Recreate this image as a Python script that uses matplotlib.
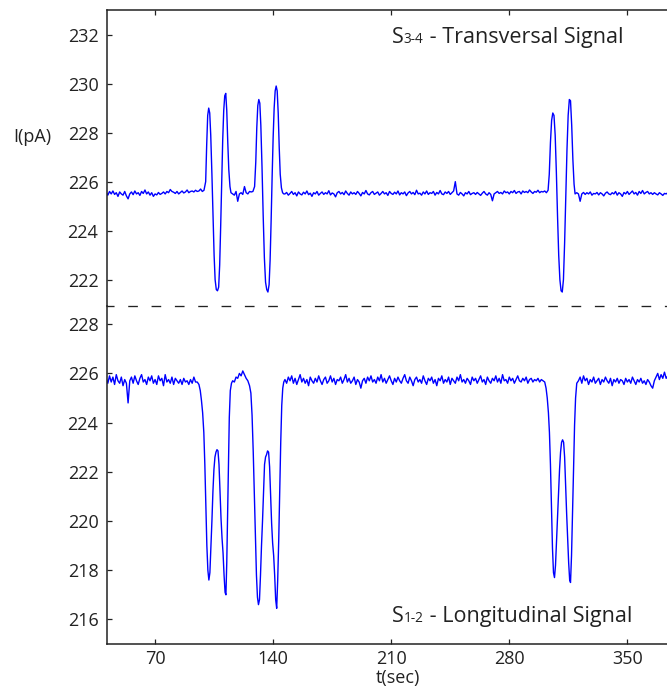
import matplotlib
matplotlib.use("Agg")
import matplotlib.pyplot as plt

plt.rcParams['font.family'] = ['Open Sans', 'DejaVu Sans']
plt.rcParams['lines.scale_dashes'] = False

# ---------------- data ----------------
# S3-4 transversal signal: time (s) and current (pA)
top_time = [
    41, 42, 43, 44, 45, 46, 47, 48, 49, 50,
    51, 52, 53, 54, 55, 56, 57, 58, 59, 60,
    61, 62, 63, 64, 65, 66, 67, 68, 69, 70,
    71, 72, 73, 74, 75, 76, 77, 78, 79, 80,
    81, 82, 83, 84, 85, 86, 87, 88, 89, 90,
    91, 92, 93, 94, 95, 96, 97,
    98, 99, 100, 100.6, 101.2, 101.8, 102.4, 103, 103.7, 104.4,
    105, 105.6, 106.3, 107, 107.7, 108.3, 108.9, 109.5, 110.1, 110.7,
    111.3, 111.9, 112.5, 113.1, 113.7, 114.4, 115,
    116, 117, 118, 119, 120, 121, 122, 123, 124, 125, 126, 127,
    128, 129, 129.7, 130.3, 130.9, 131.5, 132.1, 132.7, 133.4, 134.1,
    134.8, 135.5, 136.2, 136.9, 137.6, 138.2, 138.8, 139.4, 140, 140.6,
    141.2, 141.8, 142.4, 143, 143.6, 144.2, 144.9, 145.6, 146.3,
    147, 148, 149, 150, 151, 152, 153, 154, 155, 156,
    157, 158, 159, 160, 161, 162, 163, 164, 165, 166,
    167, 168, 169, 170, 171, 172, 173, 174, 175, 176,
    177, 178, 179, 180, 181, 182, 183, 184, 185, 186,
    187, 188, 189, 190, 191, 192, 193, 194, 195, 196,
    197, 198, 199, 200, 201, 202, 203, 204, 205, 206,
    207, 208, 209, 210, 211, 212, 213, 214, 215, 216,
    217, 218, 219, 220, 221, 222, 223, 224, 225, 226,
    227, 228, 229, 230, 231, 232, 233, 234, 235, 236,
    237, 238, 239, 240, 241, 242, 243, 244, 245, 246,
    247, 248, 249, 250, 251, 252, 253, 254, 255, 256,
    257, 258, 259, 260, 261, 262, 263, 264, 265, 266,
    267, 268, 269, 270, 271, 272, 273, 274, 275, 276,
    277, 278, 279, 280, 281, 282, 283, 284, 285, 286,
    287, 288, 289, 290, 291, 292, 293, 294, 295, 296,
    297, 298, 299, 300, 301,
    302, 303, 303.7, 304.4, 305.1, 305.8, 306.5, 307.2, 307.9, 308.6,
    309.3, 310, 310.7, 311.4, 312.1, 312.8, 313.5, 314.2, 314.9, 315.6,
    316.3, 317, 317.7, 318.4, 319,
    320, 321, 322, 323, 324, 325, 326, 327, 328, 329,
    330, 331, 332, 333, 334, 335, 336, 337, 338, 339,
    340, 341, 342, 343, 344, 345, 346, 347, 348, 349,
    350, 351, 352, 353, 354, 355, 356, 357, 358, 359,
    360, 361, 362, 363, 364, 365, 366, 367, 368, 369,
    370, 371, 372, 373, 374,
]
top_current = [
    225.55, 225.45, 225.60, 225.50, 225.62, 225.48, 225.55, 225.40, 225.58, 225.50,
    225.45, 225.60, 225.42, 225.30, 225.50, 225.58, 225.47, 225.62, 225.50, 225.55,
    225.44, 225.60, 225.52, 225.66, 225.50, 225.58, 225.45, 225.55, 225.40, 225.50,
    225.46, 225.56, 225.48, 225.52, 225.58, 225.50, 225.60, 225.55, 225.68, 225.60,
    225.57, 225.52, 225.60, 225.50, 225.56, 225.62, 225.54, 225.58, 225.66, 225.55,
    225.60, 225.62, 225.58, 225.65, 225.60, 225.62, 225.70,
    225.6, 225.65, 226.0, 227.5, 228.7, 229.0, 228.8, 227.9, 226.3, 224.5,
    223.0, 222.0, 221.6, 221.55, 221.7, 222.6, 224.2, 226.0, 227.7, 228.9,
    229.5, 229.6, 228.9, 227.6, 226.5, 225.8, 225.55,
    225.5, 225.45, 225.6, 225.2, 225.5, 225.55, 225.48, 225.8, 225.55, 225.5, 225.6, 225.58,
    225.6, 225.8, 226.8, 228.2, 229.1, 229.35, 229.2, 228.3, 226.6, 224.6,
    222.9, 221.9, 221.6, 221.5, 221.8, 222.8, 224.4, 226.2, 227.8, 229.0,
    229.7, 229.9, 229.7, 228.8, 227.4, 226.3, 225.75, 225.55, 225.5,
    225.50, 225.56, 225.45, 225.52, 225.60, 225.48, 225.55, 225.42, 225.58, 225.50,
    225.46, 225.57, 225.50, 225.62, 225.47, 225.53, 225.40, 225.55, 225.50, 225.60,
    225.45, 225.52, 225.58, 225.48, 225.55, 225.50, 225.63, 225.46, 225.54, 225.50,
    225.38, 225.55, 225.60, 225.50, 225.56, 225.47, 225.62, 225.52, 225.45, 225.58,
    225.50, 225.55, 225.48, 225.60, 225.52, 225.42, 225.56, 225.50, 225.64, 225.50,
    225.46, 225.55, 225.60, 225.48, 225.53, 225.58, 225.45, 225.52, 225.60, 225.50,
    225.55, 225.44, 225.60, 225.52, 225.48, 225.57, 225.50, 225.62, 225.46, 225.55,
    225.50, 225.58, 225.43, 225.54, 225.60, 225.50, 225.56, 225.47, 225.65, 225.50,
    225.53, 225.45, 225.58, 225.50, 225.62, 225.48, 225.55, 225.52, 225.60, 225.45,
    225.56, 225.50, 225.64, 225.50, 225.47, 225.58, 225.52, 225.60, 225.48, 225.55,
    225.62, 226.00, 225.50, 225.45, 225.56, 225.50, 225.42, 225.55, 225.50, 225.60,
    225.47, 225.52, 225.55, 225.48, 225.56, 225.50, 225.44, 225.53, 225.60, 225.50,
    225.45, 225.55, 225.48, 225.22, 225.50, 225.55, 225.60, 225.52, 225.56, 225.50,
    225.62, 225.55, 225.58, 225.50, 225.60, 225.55, 225.64, 225.52, 225.58, 225.60,
    225.50, 225.62, 225.56, 225.60, 225.55, 225.66, 225.58, 225.52, 225.60, 225.57,
    225.65, 225.55, 225.60, 225.58, 225.62,
    225.55, 225.65, 226.3, 227.6, 228.5, 228.8, 228.7, 227.9, 226.4, 224.6,
    223.0, 222.0, 221.55, 221.5, 222.0, 223.5, 225.4, 227.3, 228.7, 229.35,
    229.3, 228.3, 226.9, 225.9, 225.5,
    225.55, 225.50, 225.20, 225.50, 225.56, 225.48, 225.55, 225.50, 225.58, 225.45,
    225.52, 225.50, 225.56, 225.46, 225.55, 225.50, 225.42, 225.53, 225.58, 225.50,
    225.47, 225.55, 225.50, 225.60, 225.45, 225.55, 225.50, 225.40, 225.56, 225.50,
    225.60, 225.48, 225.55, 225.62, 225.50, 225.56, 225.45, 225.60, 225.52, 225.64,
    225.50, 225.56, 225.60, 225.50, 225.55, 225.48, 225.55, 225.50, 225.46, 225.55,
    225.50, 225.44, 225.52, 225.50, 225.55,
]

# S1-2 longitudinal signal: time (s) and current (pA)
bot_time = [
    41, 42, 43, 44, 45, 46, 47, 48, 49, 50,
    51, 52, 53, 54, 55, 56, 57, 58, 59, 60,
    61, 62, 63, 64, 65, 66, 67, 68, 69, 70,
    71, 72, 73, 74, 75, 76, 77, 78, 79, 80,
    81, 82, 83, 84, 85, 86, 87, 88, 89, 90,
    91, 92, 93, 94,
    95, 96, 96.8, 97.5, 98.2, 98.9, 99.5, 100.1, 100.7, 101.3,
    101.9, 102.5, 103.1, 103.7, 104.3, 104.9, 105.5, 106.1, 106.7, 107.3,
    107.9, 108.5, 109.1, 109.7, 110.3, 110.9, 111.5, 112, 112.5, 113,
    113.5, 114, 114.6, 115.3, 116, 117, 118, 119, 120, 121,
    122, 123, 124, 125, 126, 126.8, 127.5, 128.2, 128.9, 129.5,
    130.1, 130.7, 131.3, 131.9, 132.5, 133.1, 133.7, 134.3, 134.9, 135.5,
    136.1, 136.7, 137.3, 137.9, 138.5, 139.1, 139.7, 140.3, 140.9, 141.5,
    142.1, 142.7, 143.3, 143.9, 144.5, 145.1, 145.7, 146.3,
    147, 148, 149, 150, 151, 152, 153, 154, 155, 156,
    157, 158, 159, 160, 161, 162, 163, 164, 165, 166,
    167, 168, 169, 170, 171, 172, 173, 174, 175, 176,
    177, 178, 179, 180, 181, 182, 183, 184, 185, 186,
    187, 188, 189, 190, 191, 192, 193, 194, 195, 196,
    197, 198, 199, 200, 201, 202, 203, 204, 205, 206,
    207, 208, 209, 210, 211, 212, 213, 214, 215, 216,
    217, 218, 219, 220, 221, 222, 223, 224, 225, 226,
    227, 228, 229, 230, 231, 232, 233, 234, 235, 236,
    237, 238, 239, 240, 241, 242, 243, 244, 245, 246,
    247, 248, 249, 250, 251, 252, 253, 254, 255, 256,
    257, 258, 259, 260, 261, 262, 263, 264, 265, 266,
    267, 268, 269, 270, 271, 272, 273, 274, 275, 276,
    277, 278, 279, 280, 281, 282, 283, 284, 285, 286,
    287, 288, 289, 290, 291, 292, 293, 294, 295, 296,
    297, 298, 299, 300,
    301, 301.8, 302.5, 303.2, 303.8, 304.4, 305, 305.6, 306.2, 306.8,
    307.4, 308, 308.6, 309.2, 309.8, 310.4, 311, 311.6, 312.2, 312.8,
    313.4, 314, 314.6, 315.2, 315.8, 316.3, 316.9, 317.5, 318.1, 318.7,
    319.3, 320,
    321, 322, 323, 324, 325, 326, 327, 328, 329, 330,
    331, 332, 333, 334, 335, 336, 337, 338, 339, 340,
    341, 342, 343, 344, 345, 346, 347, 348, 349, 350,
    351, 352, 353, 354, 355, 356, 357, 358, 359, 360,
    361, 362, 363, 364, 365, 366, 367, 368, 369, 370,
    371, 372, 373, 374,
]
bot_current = [
    225.80, 225.60, 225.90, 225.65, 225.85, 225.55, 225.95, 225.70, 225.60, 225.85,
    225.50, 225.75, 225.60, 224.80, 225.70, 225.85, 225.60, 225.90, 225.70, 225.55,
    225.80, 225.95, 225.65, 225.75, 225.55, 225.85, 225.70, 225.90, 225.60, 225.75,
    225.55, 225.90, 225.70, 225.80, 225.50, 225.95, 225.65, 225.75, 225.60, 225.85,
    225.55, 225.80, 225.70, 225.60, 225.75, 225.55, 225.80, 225.65, 225.70, 225.55,
    225.75, 225.60, 225.85, 225.65,
    225.65, 225.55, 225.3, 224.9, 224.4, 223.6, 222.3, 220.6, 219.0, 218.0,
    217.6, 217.9, 218.9, 220.0, 221.2, 222.1, 222.6, 222.8, 222.9, 222.85,
    222.3, 221.2, 220.1, 219.3, 218.7, 217.8, 217.1, 217.0, 218.3, 220.2,
    222.3, 224.2, 225.3, 225.6, 225.7, 225.65, 225.85, 225.8, 226.0, 225.9,
    226.1, 225.95, 225.8, 225.7, 225.5, 225.2, 224.3, 222.8, 221.0, 219.3,
    217.8, 216.9, 216.6, 216.8, 217.8, 219.0, 220.0, 221.2, 222.3, 222.6,
    222.7, 222.85, 222.8, 222.2, 221.0, 219.9, 219.1, 218.6, 217.8, 216.8,
    216.45, 217.6, 219.2, 221.3, 223.2, 224.7, 225.4, 225.65,
    225.75, 225.60, 225.85, 225.70, 225.90, 225.60, 225.80, 225.55, 225.75, 225.95,
    225.65, 225.80, 225.60, 225.75, 225.50, 225.85, 225.70, 225.60, 225.80, 225.65,
    225.90, 225.70, 225.55, 225.75, 225.85, 225.60, 225.70, 225.90, 225.65, 225.80,
    225.55, 225.75, 225.70, 225.85, 225.60, 225.75, 225.95, 225.65, 225.80, 225.60,
    225.70, 225.85, 225.55, 225.75, 225.65, 225.40, 225.70, 225.80, 225.60, 225.85,
    225.70, 225.90, 225.65, 225.75, 225.60, 225.85, 225.70, 225.95, 225.65, 225.80,
    225.60, 225.75, 225.90, 225.70, 225.55, 225.80, 225.65, 225.85, 225.70, 225.60,
    225.80, 225.95, 225.70, 225.60, 225.85, 225.70, 225.50, 225.75, 225.85, 225.65,
    225.75, 225.60, 225.90, 225.70, 225.55, 225.80, 225.70, 225.85, 225.60, 225.75,
    225.50, 225.80, 225.70, 225.90, 225.60, 225.75, 225.65, 225.85, 225.55, 225.80,
    225.70, 225.60, 225.85, 225.70, 225.95, 225.65, 225.75, 225.60, 225.80, 225.70,
    225.55, 225.85, 225.70, 225.80, 225.60, 225.75, 225.90, 225.65, 225.75, 225.55,
    225.85, 225.70, 225.60, 225.80, 225.70, 225.90, 225.65, 225.80, 225.60, 225.95,
    225.70, 225.75, 225.60, 225.85, 225.70, 225.80, 225.60, 225.75, 225.90, 225.70,
    225.65, 225.80, 225.70, 225.85, 225.60, 225.75, 225.80, 225.65, 225.75, 225.70,
    225.80, 225.65, 225.75, 225.70,
    225.65, 225.4, 225.0, 224.4, 223.6, 222.3, 220.6, 218.9, 217.9, 217.7,
    218.2, 219.2, 220.3, 221.3, 222.1, 222.8, 223.2, 223.3, 223.2, 222.6,
    221.4, 220.3, 219.3, 218.3, 217.6, 217.5, 218.6, 220.3, 222.1, 223.9,
    225.0, 225.6,
    225.70, 225.85, 225.60, 225.90, 225.70, 225.80, 225.55, 225.75, 225.65, 225.85,
    225.60, 225.70, 225.80, 225.55, 225.75, 225.65, 225.85, 225.70, 225.60, 225.80,
    225.50, 225.75, 225.65, 225.80, 225.60, 225.75, 225.70, 225.55, 225.80, 225.65,
    225.75, 225.60, 225.85, 225.70, 225.55, 225.75, 225.65, 225.80, 225.60, 225.70,
    225.55, 225.75, 225.65, 225.50, 225.40, 225.70, 225.85, 226.00, 225.75, 225.95,
    225.80, 226.05, 225.80, 225.90,
]

x_ticks = [70, 140, 210, 280, 350]
top_yticks = [222, 224, 226, 228, 230, 232]
bot_yticks = [216, 218, 220, 222, 224, 226, 228]
x_range = (41.5, 373.5)
top_range = (220.93, 233.0)
bot_range = (215.0, 228.74)

# ---------------- figure ----------------
W, H = 667, 690
fig = plt.figure(figsize=(W / 100, H / 100), dpi=100)
left = 107 / W
ax_top = fig.add_axes([left, (H - 306) / H, 1 - left, 296 / H])
ax_bot = fig.add_axes([left, (H - 644) / H, 1 - left, 338 / H])

ink = '#222222'
blue = '#0000ff'

ax_top.plot(top_time, top_current, color=blue, lw=1.0)
ax_bot.plot(bot_time, bot_current, color=blue, lw=1.0)

for ax in (ax_top, ax_bot):
    ax.set_xlim(*x_range)
    ax.set_xticks(x_ticks)
    ax.spines['right'].set_visible(False)
    for s in ax.spines.values():
        s.set_color(ink)
        s.set_linewidth(1.1)
    ax.tick_params(direction='in', length=3.6, width=0.9, color=ink,
                   labelcolor=ink, labelsize=13)
    ax.tick_params(axis='y', pad=6.2)

ax_top.set_ylim(*top_range)
ax_top.set_yticks(top_yticks)
ax_top.spines['bottom'].set_visible(False)
ax_top.tick_params(axis='x', top=True, bottom=False, labeltop=False, labelbottom=False)

ax_bot.set_ylim(*bot_range)
ax_bot.set_yticks(bot_yticks)
ax_bot.spines['top'].set_linestyle((1.4, (6.0, 10.8)))
ax_bot.spines['top'].set_linewidth(0.95)
ax_bot.tick_params(axis='x', top=False, bottom=True, pad=4.0)

# axis labels
fig.text(13 / W, 1 - 137 / H, 'I(pA)', fontsize=13, color=ink, ha='left', va='center')
fig.text(398 / W, 1 - 678 / H, 't(sec)', fontsize=13, color=ink, ha='center', va='center')

# annotation texts with small "subscript" parts on the same baseline
fig.canvas.draw()
renderer = fig.canvas.get_renderer()


def rich_text(x_px, baseline_px, parts):
    x = x_px
    for s, size in parts:
        t = fig.text(x / W, 1 - baseline_px / H, s, fontsize=size, color=ink,
                     ha='left', va='baseline')
        x = t.get_window_extent(renderer).x1


rich_text(392, 43.3, [('S', 15.5), ('3-4', 9.8), (' - Transversal Signal', 15.5)])
rich_text(392, 621.7, [('S', 15.5), ('1-2', 9.8), (' - Longitudinal Signal', 15.5)])

fig.savefig('out.png', dpi=100)
